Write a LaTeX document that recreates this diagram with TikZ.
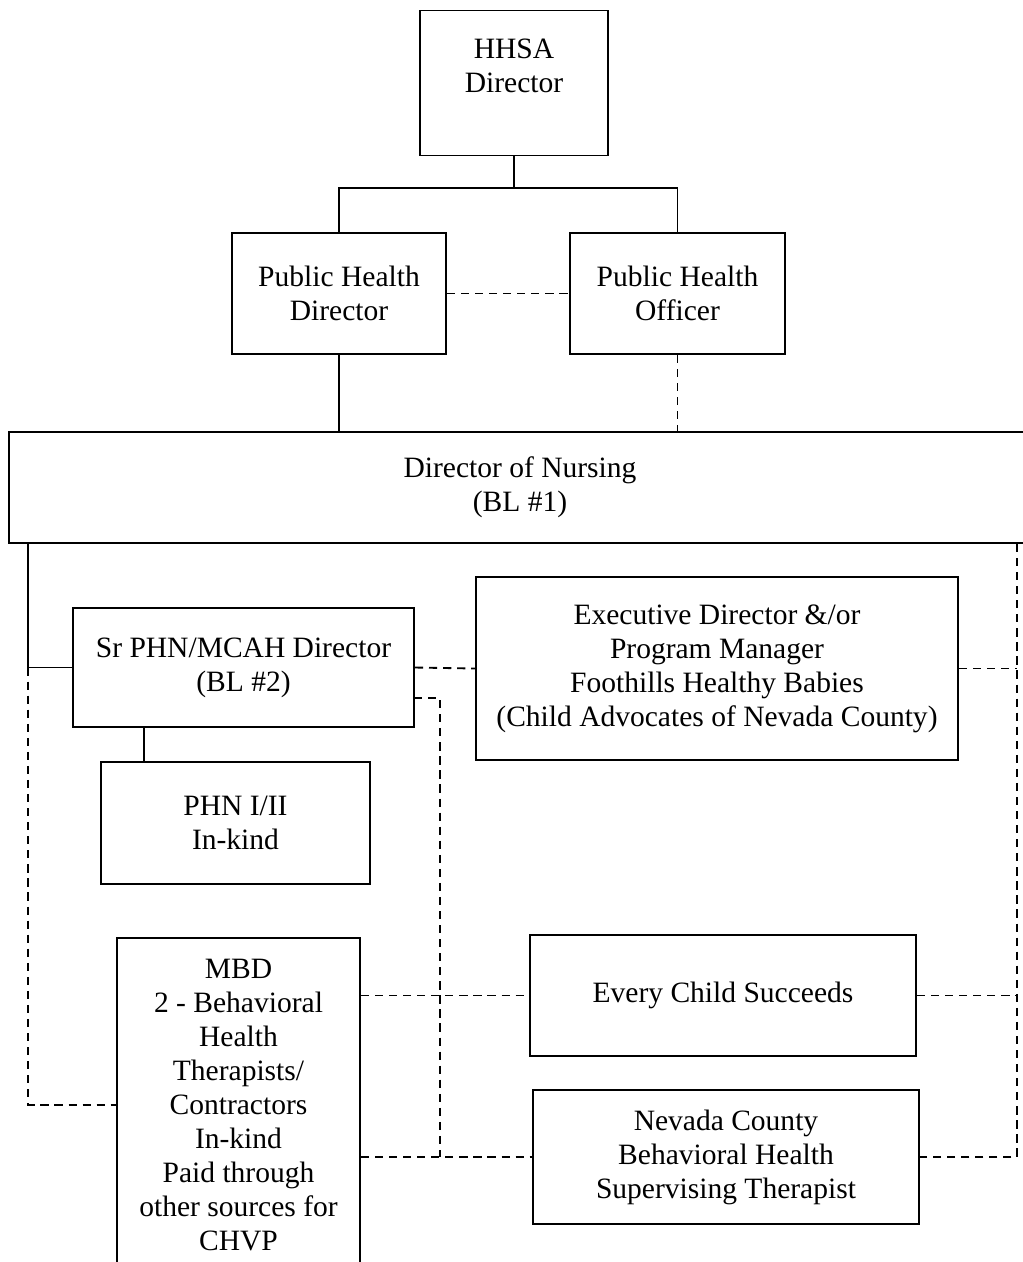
\documentclass[tikz,border=0pt]{standalone}
\usepackage{fontspec}
\setmainfont{Liberation Serif}
\usetikzlibrary{positioning}

\begin{document}
\begin{tikzpicture}[
    x=0.015cm, y=-0.015cm,
    font=\fontsize{12.6}{14.5}\selectfont,
    unit/.style={
        rectangle,
        draw=black,
        line width=0.8pt,
        inner sep=0pt,
        align=center
    },
    solidlink/.style={line width=0.8pt, draw=black},
    dashlink/.style={line width=0.8pt, draw=black, dash pattern=on 3.5pt off 2.5pt}
]

\useasboundingbox (0,0) rectangle (1023,1262);
\clip (0,0) rectangle (1023,1262);

% Boxes
\node[unit, minimum width=2.82cm, minimum height=2.175cm] (hhsa) at (514,83) {HHSA\\Director\\\mbox{}};
\node[unit, minimum width=3.21cm, minimum height=1.815cm] (phdir) at (339,293.5) {Public Health\\Director};
\node[unit, minimum width=3.225cm, minimum height=1.815cm] (phoff) at (677.5,293.5) {Public Health\\Officer};
\node[unit, minimum width=15.33cm, minimum height=1.665cm] (don) at (520,487.5) {Director of Nursing\\(BL \#1)};
\node[unit, minimum width=5.115cm, minimum height=1.785cm] (srphn) at (243.5,667.5) {Sr PHN/MCAH Director\\(BL \#2)};
\node[unit, minimum width=7.23cm, minimum height=2.745cm] (execdir) at (717,668.5) {Executive Director \&/or\\Program Manager\\Foothills Healthy Babies\\(Child Advocates of Nevada County)};
\node[unit, minimum width=4.035cm, minimum height=1.83cm] (phn) at (235.5,823) {PHN I/II\\In-kind};
\node[unit, minimum width=3.645cm, minimum height=5.01cm] (mbd) at (238.5,1105) {MBD\\2 - Behavioral\\Health\\Therapists/\\Contractors\\In-kind\\Paid through\\other sources for\\CHVP};
\node[unit, minimum width=5.79cm, minimum height=1.815cm] (ecs) at (723,995.5) {Every Child Succeeds};
\node[unit, minimum width=5.79cm, minimum height=2.01cm] (ncbh) at (726,1157) {Nevada County\\Behavioral Health\\Supervising Therapist};

% Rails
\coordinate (split) at (514,188);
\coordinate (lrail) at (28,0);
\coordinate (rrail) at (1017,0);
\coordinate (mrail) at (440,0);
\coordinate (phnrail) at (144,0);
\coordinate (srtap) at (414,698);

% Solid lines
\draw[solidlink] (hhsa) -- (split);
\draw[solidlink] (phdir.north) |- (split) -| (phoff.north);
\draw[solidlink] (phdir.south) -- (phdir.south |- don.north);
\draw[solidlink] (don.south -| lrail) |- (srphn.west);
\draw[solidlink] (srphn.south -| phnrail) -- (phn.north -| phnrail);

% Dashed lines
\draw[dashlink] (phdir.east) -- (phoff.west);
\draw[dashlink] (phoff.south) -- (phoff.south |- don.north);
\draw[dashlink] (lrail |- srphn.west) |- (mbd.west);
\draw[dashlink] (srphn.east) -- (execdir.west);
\draw[dashlink] (execdir.east) -- (execdir.east -| rrail);
\draw[dashlink] (don.south -| rrail) |- (ncbh.east);
\draw[dashlink] (ecs.east) -- (ecs.east -| rrail);
\draw[dashlink] (mbd.east |- ecs.west) -- (ecs.west);
\draw[dashlink] (srtap) -| (mrail |- ncbh.west);
\draw[dashlink] (mbd.east |- ncbh.west) -- (ncbh.west);

\end{tikzpicture}
\end{document}
